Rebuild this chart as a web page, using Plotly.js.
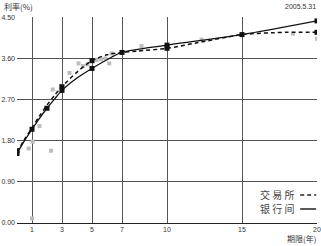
<!DOCTYPE html>
<html><head><meta charset="utf-8">
<script src="https://cdn.plot.ly/plotly-3.0.1.min.js"></script>
<style>html,body{margin:0;padding:0;background:#fff}#c{width:321px;height:246px}</style>
</head><body><div id="c"></div>
<script>
// 银行间 (solid)
var bankX = [0, 0.5, 1, 1.5, 2, 2.5, 3, 4, 5, 6, 7, 10, 15, 20];
var bankY = [1.52, 1.80, 2.05, 2.29, 2.51, 2.71, 2.90, 3.17, 3.38, 3.57, 3.73, 3.89, 4.12, 4.42];
// 交易所 (dashed)
var exchX = [0, 0.5, 1, 1.5, 2, 2.5, 3, 4, 5, 6, 7, 8, 10, 12, 15, 17, 18, 20];
var exchY = [1.55, 1.83, 2.08, 2.34, 2.58, 2.79, 2.98, 3.30, 3.55, 3.68, 3.73, 3.76, 3.82, 3.94, 4.12, 4.16, 4.17, 4.17];
// key terms with markers
var bankKeyX = [0, 1, 2, 3, 5, 7, 10, 15, 20];
var bankKeyY = [1.52, 2.05, 2.51, 2.90, 3.38, 3.73, 3.89, 4.12, 4.42];
var exchKeyX = [0, 3, 5, 10, 20];
var exchKeyY = [1.58, 2.98, 3.55, 3.82, 4.17];
// individual bonds (grey)
var bondX = [1.0, 0.78, 1.05, 1.5, 2.27, 2.38, 2.93, 3.5, 4.1, 4.4, 4.7, 5.3, 5.6, 5.9, 6.15, 6.3, 8.3, 12.3, 18.4, 20];
var bondY = [0.10, 1.63, 1.78, 2.12, 1.58, 2.92, 3.00, 3.28, 3.49, 3.43, 3.47, 3.56, 3.58, 3.60, 3.49, 3.71, 3.87, 4.01, 4.14, 4.03];
var yTicks = [0, 0.9, 1.8, 2.7, 3.6, 4.5];
var xTicks = [1, 3, 5, 7, 10, 15, 20];

var traces = [
  {x: bondX, y: bondY, mode: 'markers', type: 'scatter',
   marker: {symbol: 'square', size: 4, color: '#bdbdbd'}, hoverinfo: 'skip'},
  {x: exchX, y: exchY, mode: 'lines', type: 'scatter',
   line: {color: '#111', width: 1.5, dash: '4px,3px', shape: 'spline', smoothing: 0.8}},
  {x: bankX, y: bankY, mode: 'lines', type: 'scatter',
   line: {color: '#111', width: 1.3, shape: 'spline', smoothing: 0.8}},
  {x: exchKeyX, y: exchKeyY, mode: 'markers', type: 'scatter',
   marker: {symbol: 'square', size: 5, color: '#111'}},
  {x: bankKeyX, y: bankKeyY, mode: 'markers', type: 'scatter',
   marker: {symbol: 'square', size: 5, color: '#111'}}
];

var tf = {family: 'Liberation Sans, Arial, sans-serif', size: 7, color: '#333'};
var cf = {family: 'Noto Sans CJK SC, sans-serif', size: 10, color: '#444'};
var layout = {
  width: 321, height: 246,
  margin: {l: 17, r: 4, t: 17, b: 23},
  paper_bgcolor: '#fff', plot_bgcolor: '#fff',
  showlegend: false,
  font: tf,
  xaxis: {range: [0, 20], tickvals: xTicks, ticktext: xTicks.map(String),
          showgrid: true, gridcolor: '#555', gridwidth: 1,
          showline: true, linecolor: '#222', linewidth: 1,
          zeroline: false, ticks: '', tickfont: tf, fixedrange: true},
  yaxis: {range: [0, 4.505], tickvals: yTicks, ticktext: yTicks.map(function(v){return v.toFixed(2);}),
          showgrid: true, gridcolor: '#555', gridwidth: 1,
          showline: false, zeroline: false, ticks: '', ticklabelstandoff: 1,
          tickfont: tf, fixedrange: true},
  annotations: [
    {xref: 'paper', yref: 'paper', x: -0.05, y: 1.053, xanchor: 'left', yanchor: 'middle',
     text: '利率(%)', showarrow: false, font: {family: 'Noto Sans CJK SC, sans-serif', size: 8, color: '#333'}},
    {xref: 'paper', yref: 'paper', x: 1.003, y: 1.053, xanchor: 'right', yanchor: 'middle',
     text: '2005.5.31', showarrow: false, font: tf},
    {xref: 'paper', yref: 'paper', x: 1.003, y: -0.073, xanchor: 'right', yanchor: 'middle',
     text: '期限(年)', showarrow: false, font: {family: 'Noto Sans CJK SC, sans-serif', size: 8, color: '#333'}},
    {xref: 'paper', yref: 'paper', x: 0.93, y: 0.136, xanchor: 'right', yanchor: 'middle',
     text: '交 易 所', showarrow: false, font: cf},
    {xref: 'paper', yref: 'paper', x: 0.93, y: 0.068, xanchor: 'right', yanchor: 'middle',
     text: '银 行 间', showarrow: false, font: cf}
  ],
  shapes: [
    {type: 'line', xref: 'paper', yref: 'paper', x0: 0.944, x1: 0.997, y0: 0.136, y1: 0.136,
     line: {color: '#222', width: 1.5, dash: '4px,3px'}},
    {type: 'line', xref: 'paper', yref: 'paper', x0: 0.944, x1: 0.997, y0: 0.068, y1: 0.068,
     line: {color: '#222', width: 1.5}}
  ]
};
Plotly.newPlot('c', traces, layout, {staticPlot: true, displayModeBar: false});
</script></body></html>
